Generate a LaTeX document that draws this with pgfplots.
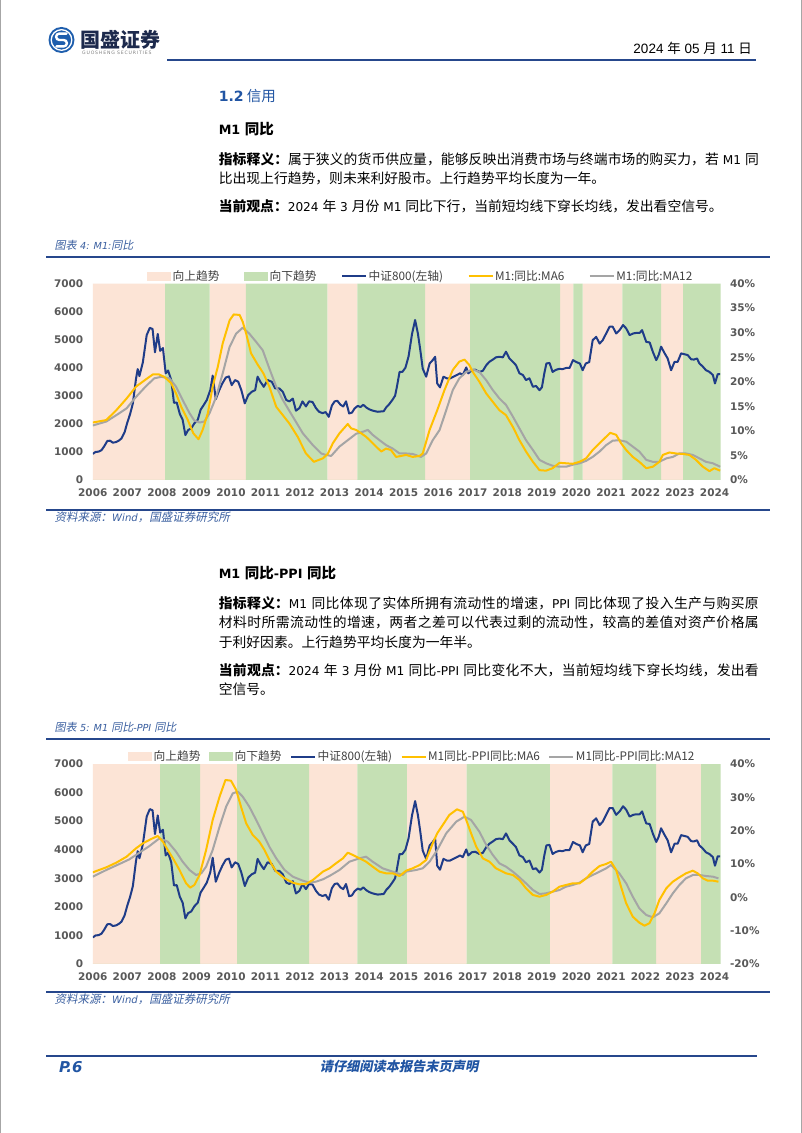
\documentclass[border=0pt]{standalone}
\usepackage{pgfplots}
\usepackage{pgfplotstable}
\pgfplotsset{compat=1.18}
\usepackage{fontspec}
\setmainfont{DejaVu Sans}
\newfontfamily\lat{DejaVu Sans}[Scale=0.88]
\newfontfamily\cjk{Noto Sans CJK SC}
\newfontfamily\cjkit{Noto Sans CJK SC}[FakeSlant=0.2]
\newfontfamily\arialf{Liberation Sans}
\newcommand\zh[1]{{\cjk #1}}
\XeTeXlinebreaklocale "zh"
\XeTeXlinebreakskip=0pt plus 1.5pt

\definecolor{bandpink}{HTML}{FCE4D6}
\definecolor{bandgreen}{HTML}{C5E0B4}
\definecolor{csiblue}{HTML}{1F3C88}
\definecolor{ma6col}{HTML}{FFC000}
\definecolor{ma12col}{HTML}{A5A5A5}
\definecolor{tickgray}{HTML}{595959}
\definecolor{legtext}{HTML}{404040}
\definecolor{headblue}{HTML}{2155A3}
\definecolor{capblue}{HTML}{3A5FA0}
\definecolor{ruleblue}{HTML}{26478C}
\definecolor{logoblue}{HTML}{1E5EAD}
\definecolor{logodark}{HTML}{1D2A4D}

% CSI 800 index (same series in both charts)
\pgfplotstableread{
t v
2006.00 930
2006.08 1000
2006.17 1010
2006.25 1060
2006.33 1200
2006.42 1390
2006.50 1400
2006.58 1330
2006.67 1350
2006.75 1400
2006.83 1480
2006.92 1700
2007.00 2050
2007.08 2350
2007.16 2730
2007.25 3600
2007.30 3950
2007.35 3700
2007.45 4200
2007.56 5160
2007.65 5420
2007.73 5380
2007.80 4550
2007.88 5200
2007.95 4600
2008.03 4700
2008.11 3800
2008.18 3900
2008.27 3560
2008.35 2750
2008.43 2760
2008.52 2350
2008.60 2150
2008.68 1600
2008.76 1780
2008.85 1840
2008.94 2020
2009.04 2150
2009.12 2500
2009.21 2670
2009.30 2850
2009.40 3200
2009.47 3720
2009.56 2880
2009.66 3200
2009.75 3440
2009.85 3650
2009.94 3690
2010.02 3380
2010.12 3560
2010.21 3500
2010.30 3200
2010.40 2730
2010.50 3025
2010.60 3140
2010.70 3200
2010.77 3680
2010.85 3500
2010.95 3320
2011.06 3560
2011.18 3500
2011.28 3260
2011.40 3260
2011.50 3140
2011.60 2850
2011.69 2800
2011.79 2900
2011.88 2470
2011.98 2560
2012.07 2800
2012.17 2620
2012.26 2800
2012.36 2780
2012.46 2560
2012.55 2430
2012.65 2380
2012.74 2420
2012.83 2250
2012.92 2650
2013.00 2800
2013.08 2820
2013.17 2680
2013.25 2620
2013.33 2800
2013.42 2370
2013.50 2400
2013.58 2550
2013.67 2640
2013.75 2600
2013.83 2680
2013.92 2580
2014.00 2520
2014.08 2480
2014.17 2450
2014.25 2430
2014.33 2440
2014.42 2450
2014.50 2600
2014.58 2700
2014.67 2850
2014.75 3000
2014.80 3300
2014.88 3850
2014.96 3850
2015.05 4000
2015.14 4400
2015.24 5200
2015.33 5700
2015.41 5220
2015.48 4630
2015.55 3970
2015.65 3680
2015.75 4150
2015.84 4270
2015.91 4390
2015.97 3440
2016.05 3300
2016.15 3680
2016.25 3620
2016.34 3620
2016.44 3680
2016.54 3740
2016.63 3800
2016.71 3740
2016.81 4010
2016.87 3800
2016.97 3910
2017.07 3930
2017.19 3850
2017.29 3890
2017.39 4090
2017.48 4210
2017.58 4290
2017.67 4370
2017.77 4390
2017.87 4370
2017.96 4570
2018.06 4330
2018.16 4210
2018.25 4090
2018.35 3800
2018.45 3740
2018.54 3560
2018.64 3620
2018.74 3320
2018.83 3350
2018.93 3200
2019.00 3300
2019.07 3800
2019.13 4150
2019.22 4170
2019.31 3850
2019.40 3920
2019.50 3960
2019.60 3950
2019.70 3990
2019.80 3990
2019.90 4270
2020.00 4200
2020.10 4150
2020.18 3910
2020.27 4150
2020.37 4200
2020.47 4980
2020.57 5100
2020.67 4860
2020.76 4980
2020.86 5220
2020.96 5460
2021.05 5460
2021.15 5220
2021.25 5340
2021.35 5520
2021.44 5400
2021.54 5160
2021.64 5220
2021.73 5240
2021.83 5240
2021.90 5340
2022.02 4920
2022.12 4900
2022.21 4570
2022.31 4270
2022.38 4450
2022.45 4750
2022.55 4520
2022.64 4330
2022.74 3910
2022.84 4210
2022.93 4210
2023.03 4510
2023.13 4480
2023.22 4450
2023.32 4300
2023.40 4290
2023.49 4330
2023.56 4150
2023.65 4050
2023.75 3910
2023.85 3850
2023.95 3740
2024.01 3440
2024.09 3770
2024.16 3770
}\csi

% M1 yoy, 6m and 12m averages (%)
\pgfplotstableread{
t v
2006.00 11.7
2006.39 12.2
2006.68 14.2
2006.98 16.6
2007.25 19.0
2007.54 20.5
2007.74 21.5
2007.91 21.5
2008.07 21.0
2008.27 19.7
2008.41 17.6
2008.56 14.9
2008.75 12.2
2008.91 9.5
2009.06 8.3
2009.18 10.2
2009.33 13.6
2009.47 19.0
2009.62 23.1
2009.76 27.8
2009.96 32.5
2010.08 33.7
2010.25 33.6
2010.34 32.2
2010.44 29.8
2010.58 25.8
2010.78 23.4
2010.94 21.7
2011.11 19.0
2011.31 14.9
2011.50 13.2
2011.69 11.5
2011.93 8.8
2012.17 5.4
2012.40 3.7
2012.51 4.0
2012.66 4.4
2012.80 5.3
2012.95 7.5
2013.14 9.5
2013.38 11.4
2013.48 10.5
2013.62 10.2
2013.77 9.5
2013.91 8.8
2014.06 7.8
2014.20 6.8
2014.35 5.8
2014.49 6.4
2014.63 6.1
2014.78 4.7
2015.07 5.1
2015.26 4.7
2015.46 4.9
2015.55 5.4
2015.75 10.2
2015.97 14.2
2016.18 18.3
2016.42 22.4
2016.61 24.1
2016.76 24.5
2016.90 23.4
2017.00 22.0
2017.19 20.0
2017.39 17.6
2017.58 15.9
2017.77 14.2
2017.96 13.2
2018.16 10.8
2018.35 8.1
2018.54 5.8
2018.74 3.7
2018.93 2.0
2019.12 1.9
2019.31 2.4
2019.51 3.5
2019.70 3.4
2019.89 3.3
2020.09 3.7
2020.28 4.4
2020.47 6.1
2020.67 7.5
2020.86 8.8
2020.98 9.6
2021.15 9.2
2021.29 7.5
2021.44 6.1
2021.63 4.7
2021.82 3.7
2022.02 2.4
2022.21 2.7
2022.40 3.7
2022.50 5.1
2022.69 5.6
2022.88 5.4
2023.08 5.3
2023.27 5.1
2023.46 4.1
2023.66 2.7
2023.85 1.8
2023.99 2.4
2024.16 1.9
}\mone

\pgfplotstableread{
t v
2006.00 11.1
2006.39 11.9
2006.77 13.6
2006.98 14.6
2007.25 16.9
2007.54 19.1
2007.78 20.7
2007.98 21.0
2008.22 20.7
2008.41 19.0
2008.60 16.3
2008.80 13.6
2008.94 12.1
2009.09 11.7
2009.23 11.9
2009.38 13.6
2009.57 16.9
2009.76 21.7
2009.96 27.1
2010.15 29.8
2010.34 31.0
2010.53 29.8
2010.73 28.1
2010.92 26.4
2011.11 22.7
2011.31 19.0
2011.50 16.3
2011.79 12.9
2012.08 9.5
2012.37 7.1
2012.61 5.4
2012.75 5.1
2012.90 4.9
2013.14 6.8
2013.38 8.1
2013.62 9.4
2013.81 9.8
2013.96 10.2
2014.10 9.2
2014.30 8.1
2014.49 7.1
2014.68 6.4
2014.88 5.4
2015.07 5.4
2015.26 5.3
2015.50 4.7
2015.65 5.4
2015.84 8.1
2016.04 10.2
2016.23 14.2
2016.42 18.3
2016.61 20.7
2016.81 22.0
2017.00 22.5
2017.19 22.0
2017.39 20.3
2017.58 18.3
2017.77 16.6
2017.96 15.3
2018.16 12.9
2018.35 10.5
2018.54 8.1
2018.74 6.1
2018.93 4.1
2019.12 3.4
2019.31 2.9
2019.51 2.7
2019.70 2.7
2019.89 3.1
2020.09 3.4
2020.28 3.9
2020.47 4.7
2020.67 5.8
2020.86 7.1
2021.05 8.0
2021.24 8.1
2021.44 7.8
2021.63 6.8
2021.82 5.8
2022.02 4.1
2022.21 3.7
2022.40 3.7
2022.60 4.4
2022.79 4.7
2022.98 5.4
2023.17 5.4
2023.37 5.1
2023.56 4.4
2023.75 3.7
2023.95 3.4
2024.16 2.7
}\monel

% M1 yoy minus PPI yoy, 6m and 12m averages (%)
\pgfplotstableread{
t v
2006.00 7.5
2006.39 9.0
2006.68 10.4
2006.98 12.2
2007.25 14.7
2007.45 16.2
2007.69 17.5
2007.88 18.4
2008.03 16.7
2008.17 14.2
2008.32 11.7
2008.51 8.2
2008.70 4.2
2008.82 2.9
2008.94 3.7
2009.09 6.7
2009.28 14.2
2009.47 23.2
2009.67 30.2
2009.84 35.2
2010.00 35.0
2010.15 32.2
2010.29 27.2
2010.44 22.2
2010.63 18.7
2010.82 16.7
2010.97 14.2
2011.16 10.2
2011.31 7.7
2011.55 5.7
2011.79 4.4
2011.98 3.9
2012.17 4.0
2012.37 5.2
2012.66 7.7
2012.85 8.7
2013.04 10.2
2013.24 11.7
2013.38 13.4
2013.53 12.7
2013.72 11.7
2013.91 10.7
2014.10 9.2
2014.30 7.7
2014.49 7.2
2014.68 7.2
2014.88 6.4
2015.07 8.0
2015.26 8.7
2015.46 9.7
2015.65 11.2
2015.84 16.2
2015.97 19.2
2016.13 21.7
2016.32 24.7
2016.54 26.4
2016.71 25.7
2016.81 23.2
2016.95 19.2
2017.10 15.2
2017.29 11.7
2017.48 10.7
2017.67 8.7
2017.96 7.2
2018.16 6.7
2018.35 5.2
2018.54 2.7
2018.74 0.7
2018.93 0.2
2019.12 0.7
2019.31 1.7
2019.51 3.2
2019.70 3.7
2019.89 4.2
2020.09 4.2
2020.28 5.7
2020.47 7.7
2020.67 9.4
2020.86 10.0
2021.00 10.7
2021.15 8.2
2021.29 3.2
2021.44 -1.8
2021.63 -5.8
2021.82 -7.6
2021.97 -8.5
2022.11 -7.8
2022.26 -4.8
2022.40 -0.8
2022.60 2.7
2022.79 4.7
2022.98 6.0
2023.17 7.2
2023.37 8.0
2023.51 7.2
2023.66 5.7
2023.80 5.0
2023.95 5.0
2024.11 4.7
}\mppi

\pgfplotstableread{
t v
2006.00 6.2
2006.39 8.2
2006.77 10.0
2007.06 11.4
2007.35 13.4
2007.64 15.4
2007.93 17.7
2008.17 16.7
2008.41 13.7
2008.60 10.7
2008.80 8.2
2008.99 6.7
2009.14 7.2
2009.28 9.2
2009.47 14.2
2009.67 21.2
2009.86 27.2
2010.05 31.2
2010.20 31.7
2010.34 30.2
2010.53 27.2
2010.73 23.2
2010.92 19.2
2011.11 15.2
2011.31 11.7
2011.55 8.2
2011.79 6.2
2012.08 5.0
2012.27 4.4
2012.46 4.7
2012.66 5.4
2012.85 6.4
2013.14 8.2
2013.43 10.7
2013.72 11.7
2013.91 12.2
2014.10 10.7
2014.39 8.7
2014.68 7.7
2014.97 6.7
2015.07 7.7
2015.36 8.2
2015.55 8.7
2015.75 10.7
2015.97 14.2
2016.23 19.2
2016.52 22.7
2016.76 24.2
2016.95 23.2
2017.19 19.7
2017.39 15.7
2017.58 12.7
2017.77 10.2
2017.96 9.2
2018.16 7.7
2018.35 6.0
2018.54 4.2
2018.74 2.2
2018.93 1.0
2019.12 1.2
2019.31 1.7
2019.51 2.2
2019.70 3.2
2019.89 3.7
2020.09 4.4
2020.28 5.7
2020.47 6.7
2020.67 7.7
2020.86 8.7
2021.00 9.7
2021.24 7.2
2021.44 4.2
2021.63 0.2
2021.82 -3.3
2022.02 -5.3
2022.21 -6.0
2022.40 -4.8
2022.60 -1.8
2022.79 1.2
2022.98 3.7
2023.17 5.7
2023.37 6.7
2023.56 6.7
2023.75 6.4
2023.95 6.2
2024.11 5.7
}\mppil

\pgfplotsset{
  chartbase/.style={
    scale only axis, width=627.7pt,
    xmin=2006, xmax=2024.17,
    axis line style={draw=none},
    major tick length=0pt, minor tick num=0,
    xtick={2006,2007,...,2024},
    scaled ticks=false,
    /pgf/number format/1000 sep={},
    /pgf/number format/assume math mode=true,
    ticklabel style={font=\fontsize{10.5}{12}\selectfont\bfseries, text=tickgray},
    xticklabel style={yshift=-5pt},
  },
  bandleg/.style={legend image code/.code={\fill (0pt,-4.5pt) rectangle (24pt,4.5pt);}},
  lineleg/.style={legend image code/.code={\draw (0pt,0pt) -- (24pt,0pt);}},
  csiline/.style={draw=csiblue, line width=2pt, line join=round, mark=none},
  ma6line/.style={draw=ma6col, line width=2pt, line join=round, mark=none},
  ma12line/.style={draw=ma12col, line width=2pt, line join=round, mark=none},
}

\begin{document}
\begin{tikzpicture}
\useasboundingbox (0,0) rectangle (802pt,1133pt);
\fill[white] (0,0) rectangle (802pt,1133pt);

% ---------------- chart 1 : M1 yoy ----------------
\begin{axis}[chartbase, at={(92.8pt,653pt)}, anchor=south west, height=196.5pt,
  ymin=0, ymax=7000, ytick={0,1000,...,7000},
  axis y line*=left, axis x line*=bottom, yticklabel style={xshift=-6pt},
  legend cell align=left,
  legend style={at={(0.522,1.038)}, anchor=center, draw=none, fill=none,
    legend columns=5, text=legtext, font=\cjk\fontsize{11.75}{13}\selectfont,
    /tikz/every even column/.append style={column sep=23pt},
    inner sep=0pt, nodes={inner sep=1.5pt}}]
\addplot[const plot, fill=bandpink, draw=none, bandleg] coordinates {(2006,7000) (2008.09,0) (2009.38,7000) (2010.43,0) (2012.79,7000) (2013.66,0) (2015.62,7000) (2016.92,0) (2019.53,7000) (2019.91,0) (2020.18,7000) (2021.33,0) (2022.45,7000) (2023.09,0) (2024.17,0)} \closedcycle;
\addlegendentry{向上趋势}
\addplot[const plot, fill=bandgreen, draw=none, bandleg] coordinates {(2006,0) (2008.09,7000) (2009.38,0) (2010.43,7000) (2012.79,0) (2013.66,7000) (2015.62,0) (2016.92,7000) (2019.53,0) (2019.91,7000) (2020.18,0) (2021.33,7000) (2022.45,0) (2023.09,7000) (2024.17,7000)} \closedcycle;
\addlegendentry{向下趋势}
\addplot[csiline, lineleg] table[x=t, y=v] {\csi};
\addlegendentry{中证800(左轴)}
\addlegendimage{ma6line, lineleg}
\addlegendentry{M1:同比:MA6}
\addlegendimage{ma12line, lineleg}
\addlegendentry{M1:同比:MA12}
\end{axis}
\begin{axis}[chartbase, at={(92.8pt,653pt)}, anchor=south west, height=196.5pt,
  ymin=0, ymax=40, ytick={0,5,...,40},
  axis y line*=right, axis x line=none, yticklabel style={xshift=6pt},
  yticklabel={\pgfmathprintnumber{\tick}\%}]
\addplot[ma12line] table[x=t, y=v] {\monel};
\addplot[ma6line] table[x=t, y=v] {\mone};
\end{axis}

% ---------------- chart 2 : M1 yoy - PPI yoy ----------------
\begin{axis}[chartbase, at={(92.8pt,169pt)}, anchor=south west, height=200pt,
  ymin=0, ymax=7000, ytick={0,1000,...,7000},
  axis y line*=left, axis x line*=bottom, yticklabel style={xshift=-6pt},
  legend cell align=left,
  legend style={at={(0.5085,1.0365)}, anchor=center, draw=none, fill=none,
    legend columns=5, text=legtext, font=\cjk\fontsize{11.75}{13}\selectfont,
    /tikz/every even column/.append style={column sep=7pt},
    inner sep=0pt, nodes={inner sep=1.5pt}}]
\addplot[const plot, fill=bandpink, draw=none, bandleg] coordinates {(2006,7000) (2007.95,0) (2009.11,7000) (2010.18,0) (2012.26,7000) (2013.66,0) (2015.09,7000) (2016.82,0) (2019.23,7000) (2021.04,0) (2022.31,7000) (2023.61,0) (2024.17,0)} \closedcycle;
\addlegendentry{向上趋势}
\addplot[const plot, fill=bandgreen, draw=none, bandleg] coordinates {(2006,0) (2007.95,7000) (2009.11,0) (2010.18,7000) (2012.26,0) (2013.66,7000) (2015.09,0) (2016.82,7000) (2019.23,0) (2021.04,7000) (2022.31,0) (2023.61,7000) (2024.17,7000)} \closedcycle;
\addlegendentry{向下趋势}
\addplot[csiline, lineleg] table[x=t, y=v] {\csi};
\addlegendentry{中证800(左轴)}
\addlegendimage{ma6line, lineleg}
\addlegendentry{M1同比-PPI同比:MA6}
\addlegendimage{ma12line, lineleg}
\addlegendentry{M1同比-PPI同比:MA12}
\end{axis}
\begin{axis}[chartbase, at={(92.8pt,169pt)}, anchor=south west, height=200pt,
  ymin=-20, ymax=40, ytick={-20,-10,...,40},
  axis y line*=right, axis x line=none, yticklabel style={xshift=6pt},
  yticklabel={\pgfmathprintnumber{\tick}\%}]
\addplot[ma12line] table[x=t, y=v] {\mppil};
\addplot[ma6line] table[x=t, y=v] {\mppi};
\end{axis}

% ---------------- page text, in pixel coordinates from the top ----------------
\begin{scope}[x=1pt, y=-1pt, shift={(0,1133pt)}]
\draw[gray!70, line width=1pt] (0.8,0) -- (0.8,1133);
\draw[gray!70, line width=1pt] (801.2,0) -- (801.2,1133);

% header
\fill[logoblue] (61.5,40) circle (13pt);
\draw[white, line width=1.3pt] (61.5,40) circle (10.3pt);
\draw[white, line width=2.4pt, line cap=round] (66.5,33.6) -- (59.3,33.6)
  arc[start angle=-90, end angle=-270, radius=3.2] -- (63.7,40)
  arc[start angle=-90, end angle=90, radius=3.2] -- (56.5,46.4);
\node[anchor=west, inner sep=0, text=logodark] at (80.5,39.5) {\cjk\bfseries\fontsize{20}{21}\selectfont 国盛证券};
\node[anchor=west, inner sep=0, text=gray] at (82,52.8) {\fontsize{4.6}{5}\selectfont\addfontfeature{LetterSpace=18}GUOSHENG SECURITIES};
\node[anchor=east, inner sep=0] at (752,48.3) {\arialf\fontsize{13.5}{14}\selectfont 2024 \zh{年} 05 \zh{月} 11 \zh{日}};
\draw[ruleblue, line width=2.5pt] (167,60) -- (756,60);

% section 1
\node[anchor=west, inner sep=0, text=headblue] at (218.6,96) {{\lat\bfseries\fontsize{16}{17}\selectfont 1.2} {\cjk\fontsize{14.5}{15}\selectfont 信用}};
\node[anchor=west, inner sep=0] at (218.6,129.3) {\lat\bfseries\fontsize{14.5}{15}\selectfont M1 \zh{同比}};
\node[anchor=north west, inner sep=0, text width=540pt, align=justify,
      font={\lat\fontsize{13.8}{19.5}\selectfont}] at (218.6,152.4)
  {\noindent
   \zh{\textbf{指标释义：}属于狭义的货币供应量，能够反映出消费市场与终端市场的购买力，若} M1 \zh{同}\linebreak
   \zh{比出现上行趋势，则未来利好股市。上行趋势平均长度为一年。}\par};
\node[anchor=west, inner sep=0, font={\lat\fontsize{13.8}{19.5}\selectfont}] at (218.6,206)
  {\zh{\textbf{当前观点：}}2024 \zh{年} 3 \zh{月份} M1 \zh{同比下行，当前短均线下穿长均线，发出看空信号。}};

\node[anchor=west, inner sep=0, text=capblue] at (54.5,245) {\fontsize{11}{12}\selectfont{\cjkit 图表} {\lat\itshape 4: M1:}{\cjkit 同比}};
\draw[ruleblue, line width=2pt] (46,257.3) -- (769.5,257.3);
\draw[ruleblue, line width=2pt] (46,510) -- (769.5,510);
\node[anchor=west, inner sep=0, text=capblue] at (54.5,517.5) {\fontsize{11.5}{12}\selectfont{\cjkit 资料来源：}{\lat\itshape Wind}{\cjkit ，国盛证券研究所}};

% section 2
\node[anchor=west, inner sep=0] at (218.6,573.3) {\lat\bfseries\fontsize{14.5}{15}\selectfont M1 \zh{同比}-PPI \zh{同比}};
\node[anchor=north west, inner sep=0, text width=540pt, align=justify,
      font={\lat\fontsize{13.8}{19.5}\selectfont}] at (218.6,596.4)
  {\noindent
   \zh{\textbf{指标释义：}}M1 \zh{同比体现了实体所拥有流动性的增速，}PPI \zh{同比体现了投入生产与购买原}\linebreak
   \zh{材料时所需流动性的增速，两者之差可以代表过剩的流动性，较高的差值对资产价格属}\linebreak
   \zh{于利好因素。上行趋势平均长度为一年半。}\par};
\node[anchor=north west, inner sep=0, text width=540pt, align=justify,
      font={\lat\fontsize{13.8}{19.5}\selectfont}] at (218.6,663.1)
  {\noindent
   \zh{\textbf{当前观点：}}2024 \zh{年} 3 \zh{月份} M1 \zh{同比}-PPI \zh{同比变化不大，当前短均线下穿长均线，发出看}\linebreak
   \zh{空信号。}\par};

\node[anchor=west, inner sep=0, text=capblue] at (54.5,727.3) {\fontsize{11}{12}\selectfont{\cjkit 图表} {\lat\itshape 5: M1 }{\cjkit 同比}{\lat\itshape -PPI }{\cjkit 同比}};
\draw[ruleblue, line width=2pt] (46,739.3) -- (769.5,739.3);
\draw[ruleblue, line width=2pt] (46,992.3) -- (769.5,992.3);
\node[anchor=west, inner sep=0, text=capblue] at (54.5,999) {\fontsize{11.5}{12}\selectfont{\cjkit 资料来源：}{\lat\itshape Wind}{\cjkit ，国盛证券研究所}};

% footer
\draw[ruleblue, line width=2.5pt] (46,1056) -- (757,1056);
\node[anchor=west, inner sep=0, text=headblue] at (59,1067) {\lat\bfseries\itshape\fontsize{17}{17}\selectfont P.6};
\node[inner sep=0, text=headblue] at (399,1067) {\cjkit\bfseries\fontsize{13.2}{14}\selectfont 请仔细阅读本报告末页声明};
\end{scope}
\end{tikzpicture}
\end{document}
